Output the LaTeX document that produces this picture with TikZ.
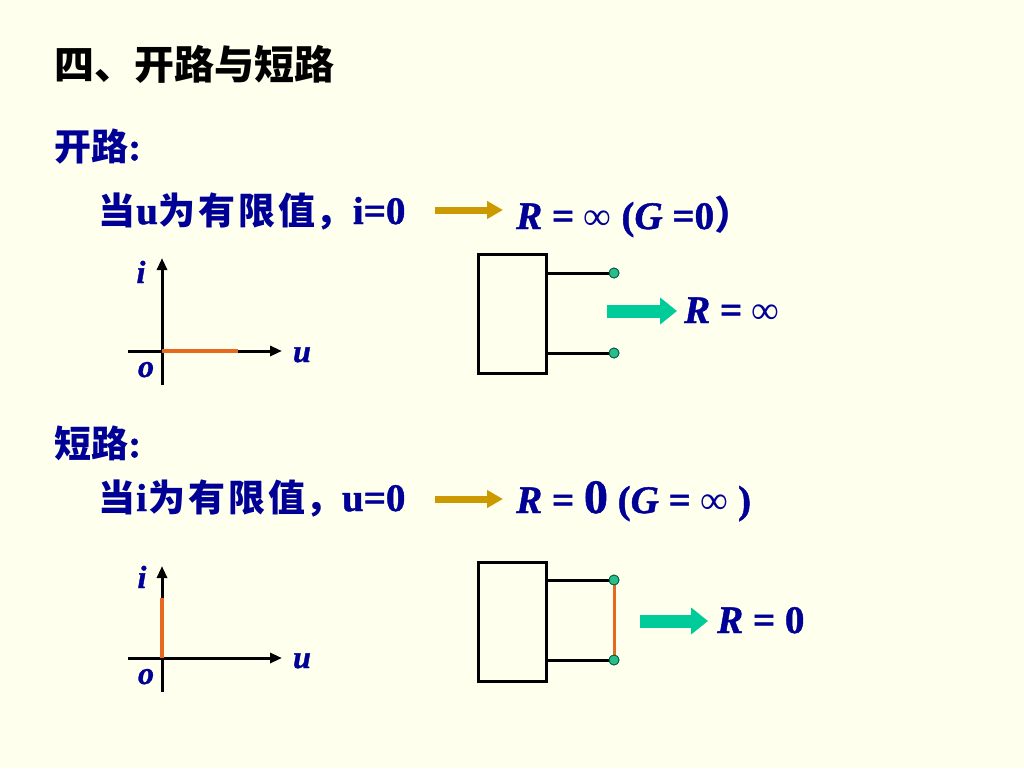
\documentclass[tikz,border=0pt]{standalone}
\usepackage{fontspec}
\setmainfont{Liberation Serif}[BoldFeatures={FakeBold=1.2}, BoldItalicFeatures={FakeBold=1.2}]
\newfontfamily\cjk{Noto Sans CJK SC}
\usetikzlibrary{arrows.meta}
\definecolor{bg}{RGB}{255,255,238}
\definecolor{navy}{RGB}{0,0,150}
\definecolor{goldc}{RGB}{204,153,0}
\definecolor{tealc}{RGB}{0,204,153}
\definecolor{orangec}{RGB}{232,104,32}
\definecolor{dotc}{RGB}{40,190,140}
\definecolor{dotedge}{RGB}{0,90,60}
\newcommand\lat[1]{{\rmfamily\fontsize{39}{44}\selectfont\bfseries #1}}
\begin{document}
\begin{tikzpicture}[x=1pt,y=-1pt,
  txt/.style={inner sep=0pt, anchor=base west, text=navy},
  cjkline/.style={txt, font=\fontsize{37}{44}\selectfont\cjk\bfseries},
  req/.style={txt, font=\rmfamily\fontsize{39}{44}\selectfont\bfseries},
  axlabel/.style={inner sep=0pt, anchor=base, text=navy, font=\rmfamily\fontsize{32}{36}\selectfont\bfseries\itshape},
  axis/.style={line width=3pt, black, -{Triangle[length=12pt,width=10pt]}},
  graph/.style={line width=3.5pt, orangec},
  goldarrow/.style={line width=7pt, goldc, -{Triangle[length=16pt,width=17pt]}},
  tealarrow/.style={line width=13pt, tealc, -{Triangle[length=17pt,width=26pt]}},
  twoport/.style={draw=black, line width=3pt, fill=bg, minimum width=68pt, minimum height=119pt, inner sep=0pt},
  lead/.style={line width=3pt, black},
  shortwire/.style={line width=3pt, orangec},
  terminal/.style={circle, fill=dotc, draw=dotedge, line width=0.8pt, minimum size=10pt, inner sep=0pt}
]
\fill[bg] (0,0) rectangle (1024,768);
\useasboundingbox (0,0) rectangle (1024,768);

% title
\node[inner sep=0pt, anchor=base west, font=\fontsize{40}{48}\selectfont\cjk\bfseries] (title) at (54,79) {四、开路与短路};

% open circuit
\node[cjkline] (open) at (54,160) {开路\lat{:}};
\node[cjkline] (cond1) at (98,224) {当\hspace{1pt}\lat{u}\hspace{1pt}为\hspace{3pt}有\hspace{3pt}限\hspace{3pt}值，\lat{i=0}};
\coordinate (g1s) at (435,210);
\coordinate (g1e) at (503,210);
\draw[goldarrow] (g1s) -- (g1e);
\node[req] (res1) at (516,229) {\textit{R} = {\mdseries ∞} (\textit{G} =0{\cjk ）}};

% open axes
\coordinate (o1) at (162,351);
\coordinate (v1b) at (162,385);
\coordinate (v1t) at (162,258);
\coordinate (h1l) at (128,351);
\coordinate (h1r) at (282,351);
\coordinate (g1end) at (238,351);
\draw[axis] (v1b) -- (v1t);
\draw[axis] (h1l) -- (h1r);
\draw[graph] (o1) -- (g1end);
\node[axlabel] (i1) at (141,283) {i};
\node[axlabel] (o1l) at (146,377) {o};
\node[axlabel] (u1) at (302,362) {u};

% open two-port
\node[twoport] (box1) at (512,313.5) {};
\node[terminal] (t1a) at (614,273) {};
\node[terminal] (t1b) at (614,353) {};
\draw[lead] (box1.east |- t1a) -- (t1a);
\draw[lead] (box1.east |- t1b) -- (t1b);
\node[terminal] at (t1a) {};
\node[terminal] at (t1b) {};
\coordinate (a1s) at (607,311);
\coordinate (a1e) at (677,311);
\draw[tealarrow] (a1s) -- (a1e);
\node[req] (rinf) at (684,323) {\textit{R} = {\mdseries ∞}};

% short circuit
\node[cjkline] (short) at (54,457) {短路\lat{:}};
\node[cjkline] (cond2) at (98,511) {当\hspace{1pt}\lat{i}\hspace{1pt}为\hspace{3pt}有\hspace{3pt}限\hspace{3pt}值，\lat{u=0}};
\coordinate (g2s) at (435,499);
\coordinate (g2e) at (503,499);
\draw[goldarrow] (g2s) -- (g2e);
\node[req] (res2) at (516,513) {\textit{R} = {\fontsize{48}{50}\selectfont 0} (\textit{G} = {\mdseries ∞} )};

% short axes
\coordinate (o2) at (162,658);
\coordinate (v2b) at (162,692);
\coordinate (v2t) at (162,566);
\coordinate (h2l) at (128,658);
\coordinate (h2r) at (282,658);
\coordinate (g2end) at (162,598);
\draw[axis] (v2b) -- (v2t);
\draw[axis] (h2l) -- (h2r);
\draw[graph] (o2) -- (g2end);
\node[axlabel] (i2) at (142,588) {i};
\node[axlabel] (o2l) at (146,684) {o};
\node[axlabel] (u2) at (302,668) {u};

% short two-port
\node[twoport] (box2) at (512,621.5) {};
\node[terminal] (t2a) at (614,580) {};
\node[terminal] (t2b) at (614,660) {};
\draw[lead] (box2.east |- t2a) -- (t2a);
\draw[lead] (box2.east |- t2b) -- (t2b);
\draw[shortwire] (t2a) -- (t2b);
\node[terminal] at (t2a) {};
\node[terminal] at (t2b) {};
\coordinate (a2s) at (640,621);
\coordinate (a2e) at (708,621);
\draw[tealarrow] (a2s) -- (a2e);
\node[req] (rzero) at (717,633) {\textit{R} = 0};
\end{tikzpicture}
\end{document}
